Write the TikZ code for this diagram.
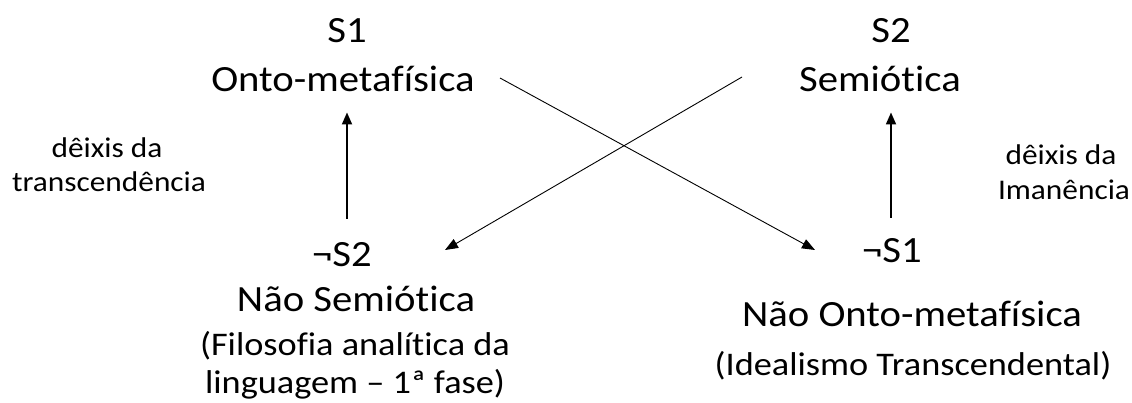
\documentclass[tikz,border=0pt]{standalone}
\usepackage{fontspec}
\setmainfont{Carlito}[FakeStretch=1.1, Ligatures=NoCommon]
\usetikzlibrary{arrows.meta,positioning}

\begin{document}
\begin{tikzpicture}[x=1pt, y=-1pt,
    term/.style={font=\fontsize{37}{44}\selectfont, inner sep=0pt, anchor=base},
    gloss/.style={font=\fontsize{33}{40}\selectfont, inner sep=0pt, anchor=base},
    note/.style={font=\fontsize{28.5}{34}\selectfont, inner sep=0pt, anchor=base},
    uparr/.style={-{Triangle[length=12pt, width=10pt]}, line width=1.8pt},
    cross/.style={-{Triangle[length=13pt, width=10pt]}, line width=0.9pt}]
  \useasboundingbox (0,0) rectangle (1132,403);

  % Contraries
  \node[term] (s1) at (347,43) {S1};
  \node[term] (onto) at (343,92) {Onto-metafísica};
  \node[term] (s2) at (891,43) {S2};
  \node[term] (semio) at (880,92) {Semiótica};

  % Sub-contraries
  \node[term] (nots2) at (342,267) {¬S2};
  \node[term] (naosemio) at (356,312) {Não Semiótica};
  \node[gloss] (filo1) at (355,355) {(Filosofia analítica da};
  \node[gloss] (filo2) at (355,393) {linguagem – 1ª fase)};
  \node[term] (nots1) at (892,263) {¬S1};
  \node[term] (naoonto) at (912,326) {Não Onto-metafísica};
  \node[gloss] (ideal) at (913,375) {(Idealismo Transcendental)};

  % Deixis labels
  \node[note] (dx1a) at (107,158) {dêixis da};
  \node[note] (dx1b) at (109,192) {transcendência};
  \node[note] (dx2a) at (1061,165) {dêixis da};
  \node[note] (dx2b) at (1064,200) {Imanência};

  % Implications
  \draw[uparr, shorten <=24pt, shorten >=20pt] (nots2.north -| s1) -- (onto.south -| s1);
  \draw[uparr, shorten <=21pt, shorten >=20pt] (nots1.north -| s2) -- (semio.south -| s2);

  % Contradictions
  \coordinate (ontoR) at (500,78);
  \coordinate (nots1L) at (815,250);
  \coordinate (semioL) at (742,77);
  \coordinate (nots2R) at (445,250);
  \draw[cross] (ontoR) -- (nots1L);
  \draw[cross] (semioL) -- (nots2R);
\end{tikzpicture}
\end{document}
